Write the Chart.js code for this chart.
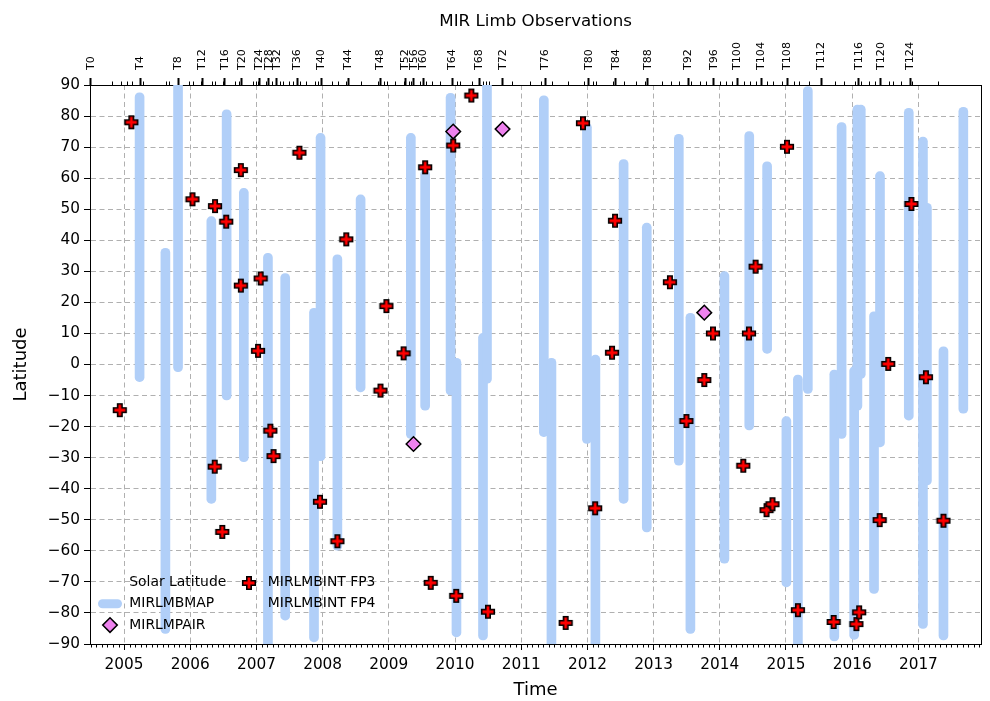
<!DOCTYPE html>
<html>
<head>
<meta charset="utf-8">
<title>MIR Limb Observations</title>
<script src="https://cdn.jsdelivr.net/npm/chart.js"></script>
<style>
  html, body { margin: 0; padding: 0; background: #fff; }
  #wrap { width: 990px; height: 701px; }
</style>
</head>
<body>
<div id="wrap"><canvas id="limbChart" width="990" height="701"></canvas></div>
<script>
// axis ticks
const yearTicks = [2005, 2006, 2007, 2008, 2009, 2010, 2011, 2012, 2013, 2014, 2015, 2016, 2017];
const latTicks = [-90, -80, -70, -60, -50, -40, -30, -20, -10, 0, 10, 20, 30, 40, 50, 60, 70, 80, 90];

// Titan flybys on the top axis (labelled every 4th)
const flybyLabels = ['T0', 'T4', 'T8', 'T12', 'T16', 'T20', 'T24', 'T28', 'T32', 'T36', 'T40', 'T44',
  'T48', 'T52', 'T56', 'T60', 'T64', 'T68', 'T72', 'T76', 'T80', 'T84', 'T88', 'T92', 'T96',
  'T100', 'T104', 'T108', 'T112', 'T116', 'T120', 'T124'];
const flybyLabelTimes = [2004.50, 2005.25, 2005.82, 2006.18, 2006.52, 2006.78, 2007.04, 2007.19, 2007.31,
  2007.62, 2007.98, 2008.39, 2008.87, 2009.25, 2009.38, 2009.52, 2009.96, 2010.37, 2010.72, 2011.36,
  2012.02, 2012.43, 2012.91, 2013.52, 2013.91, 2014.26, 2014.63, 2015.02, 2015.53, 2016.10, 2016.43, 2016.88];
const flybyOtherTimes = [2004.82, 2004.95, 2005.04, 2005.12, 2005.29, 2005.64, 2005.68, 2005.98, 2006.04,
  2006.16, 2006.33, 2006.38, 2006.50, 2006.68, 2006.73, 2006.77, 2006.95, 2006.99, 2007.03, 2007.14,
  2007.23, 2007.36, 2007.40, 2007.49, 2007.55, 2007.66, 2007.75, 2007.88, 2007.93, 2008.14, 2008.23,
  2008.36, 2008.58, 2008.84, 2008.93, 2008.97, 2009.10, 2009.23, 2009.30, 2009.34, 2009.47, 2009.56,
  2009.65, 2009.78, 2009.95, 2010.03, 2010.07, 2010.26, 2010.43, 2010.47, 2010.51, 2010.86, 2011.13,
  2011.30, 2011.47, 2011.70, 2011.95, 2012.08, 2012.13, 2012.39, 2012.56, 2012.74, 2012.87, 2013.13,
  2013.26, 2013.39, 2013.57, 2013.70, 2013.79, 2014.00, 2014.09, 2014.18, 2014.37, 2014.46, 2014.55,
  2014.72, 2014.81, 2014.94, 2015.12, 2015.20, 2015.35, 2015.74, 2015.87, 2016.04, 2016.13, 2016.26,
  2016.34, 2016.56, 2016.61, 2016.74, 2016.91, 2017.30];

// MIRLMBMAP latitude coverage
const mapTimes = [2005.235, 2005.625, 2005.816, 2006.319, 2006.550, 2006.810, 2007.174, 2007.435, 2007.870,
  2007.969, 2008.223, 2008.574, 2009.333, 2009.549, 2009.933, 2010.022, 2010.423, 2010.483, 2011.342,
  2011.457, 2011.993, 2012.121, 2012.547, 2012.897, 2013.381, 2013.556, 2014.070, 2014.445, 2014.715,
  2015.006, 2015.180, 2015.330, 2015.730, 2015.840, 2016.030, 2016.079, 2016.130, 2016.330, 2016.420,
  2016.855, 2017.069, 2017.129, 2017.379, 2017.679];
const mapLatLow = [-5.5, -86.6, -2.3, -44.7, -11.4, -31.3, -93, -82.3, -89.3, -31, -59.8, -8.8, -23.8, -14.7,
  -9.8, -87.7, -88.7, -6, -23.2, -93, -25.4, -93, -44.7, -53.9, -32.4, -86.6, -64, -21.1, 3.6, -71.6, -93,
  -9.3, -89, -23.8, -88.5, -14.7, -4.5, -73.7, -26.5, -17.9, -85, -38.8, -88.7, -15.7];
const mapLatHigh = [87.5, 37.4, 93, 47.6, 82, 56.7, 35.8, 29.3, 18.1, 74.4, 35.3, 54.6, 74.4, 62.6, 87.3,
  2, 10, 93, 86.5, 2, 77.7, 3, 66, 45.5, 74.1, 16.5, 29.9, 75, 65.3, -16.8, -3.4, 89.5, -1.8, 77.9, -0.7,
  83.5, 83.5, 17, 62.1, 82.5, 73.2, 51.9, 5.7, 82.8];

// MIRLMBINT FP3
const fp3Times = [2004.936, 2005.111, 2006.034, 2006.375, 2006.370, 2006.484, 2006.544, 2006.765, 2006.765,
  2007.024, 2007.064, 2007.210, 2007.259, 2007.649, 2007.960, 2008.223, 2008.358, 2008.874, 2008.964,
  2009.223, 2009.549, 2009.633, 2009.973, 2010.018, 2010.247, 2010.498, 2011.672, 2011.933, 2012.117,
  2012.372, 2012.417, 2013.246, 2013.496, 2013.766, 2013.897, 2014.355, 2014.441, 2014.541, 2014.706,
  2014.796, 2015.015, 2015.180, 2015.720, 2016.064, 2016.105, 2016.415, 2016.544, 2016.895, 2017.114,
  2017.379];
const fp3Lats = [-14.7, 78, 53.2, 51, -32.9, -53.9, 46, 62.6, 25.4, 4.4, 27.7, -21.3, -29.5, 68.2, -44.2,
  -56.9, 40.3, -8.4, 18.8, 3.6, 63.5, -70.3, 70.5, -74.5, 86.6, -79.6, -83.2, 77.7, -46.3, 3.8, 46.3,
  26.5, -18.2, -5, 10, -32.6, 10, 31.5, -46.9, -45, 70.1, -79.1, -82.9, -83.6, -79.8, -50.1, 0.2, 51.7,
  -4.1, -50.3];

// MIRLMPAIR
const pairTimes = [2009.973, 2010.718, 2009.373, 2013.766];
const pairLats = [75, 75.8, -25.6, 16.7];

// empty in this plot
const fp4Times = [];
const fp4Lats = [];
const solarTimes = [];
const solarLats = [];

const MAP_BLUE = '#b1cff8';
const FONT = "'DejaVu Sans', sans-serif";

function pts(xs, ys) {
    return xs.map((x, i) => ({ x: x, y: ys[i] }));
}

// filled plus marker with black edge
function makePlus() {
    const c = document.createElement('canvas');
    c.width = 16; c.height = 16;
    const g = c.getContext('2d');
    const m = 8, h = 6.3, a = 2.2;
    g.beginPath();
    g.moveTo(m - a, m - h); g.lineTo(m + a, m - h); g.lineTo(m + a, m - a);
    g.lineTo(m + h, m - a); g.lineTo(m + h, m + a); g.lineTo(m + a, m + a);
    g.lineTo(m + a, m + h); g.lineTo(m - a, m + h); g.lineTo(m - a, m + a);
    g.lineTo(m - h, m + a); g.lineTo(m - h, m - a); g.lineTo(m - a, m - a);
    g.closePath();
    g.fillStyle = '#ff0000';
    g.fill();
    g.lineWidth = 1.6;
    g.strokeStyle = '#000';
    g.stroke();
    return c;
}
const plusMarker = makePlus();

// small ticks: months on the bottom, other flybys on the top
const minorTicks = {
    id: 'minorTicks',
    afterDraw(chart) {
        const ctx = chart.ctx;
        const area = chart.chartArea;
        const xs = chart.scales.x;
        ctx.save();
        ctx.strokeStyle = '#000';
        ctx.lineWidth = 1;
        ctx.beginPath();
        for (let m = Math.ceil(xs.min * 12); m <= xs.max * 12; m++) {
            if (m % 12 === 0) continue;
            const px = Math.round(xs.getPixelForValue(m / 12)) + 0.5;
            ctx.moveTo(px, area.bottom);
            ctx.lineTo(px, area.bottom + 3.5);
        }
        flybyOtherTimes.forEach(t => {
            const px = Math.round(xs.getPixelForValue(t)) + 0.5;
            ctx.moveTo(px, area.top);
            ctx.lineTo(px, area.top - 3.5);
        });
        ctx.stroke();
        ctx.restore();
    }
};

// rotated flyby names above the top ticks
const flybyNames = {
    id: 'flybyNames',
    afterDraw(chart) {
        const ctx = chart.ctx;
        const area = chart.chartArea;
        const xs = chart.scales.xTop;
        ctx.save();
        ctx.font = '11.1px ' + FONT;
        ctx.fillStyle = '#000';
        ctx.textAlign = 'left';
        ctx.textBaseline = 'middle';
        flybyLabelTimes.forEach((t, i) => {
            ctx.save();
            ctx.translate(xs.getPixelForValue(t), area.top - 15);
            ctx.rotate(-Math.PI / 2);
            ctx.fillText(flybyLabels[i], 0, 0);
            ctx.restore();
        });
        ctx.restore();
    }
};

// two-column legend inside the lower left corner
const cornerLegend = {
    id: 'cornerLegend',
    afterDraw(chart) {
        const ctx = chart.ctx;
        const area = chart.chartArea;
        ctx.save();
        ctx.font = '13.9px ' + FONT;
        ctx.textBaseline = 'middle';
        chart.data.datasets.forEach((ds, i) => {
            const col = Math.floor(i / 3), row = i % 3;
            const hx = area.left + 20 + col * 138.5;
            const y = area.bottom - 61.5 + row * 21.3;
            if (ds.type === 'bar') {
                ctx.strokeStyle = ds.backgroundColor;
                ctx.lineWidth = 9;
                ctx.lineCap = 'round';
                ctx.beginPath();
                ctx.moveTo(hx - 7.5, y);
                ctx.lineTo(hx + 7.5, y);
                ctx.stroke();
            } else if (ds.pointStyle === 'rectRot') {
                const r = ds.pointRadius;
                ctx.beginPath();
                ctx.moveTo(hx - r, y); ctx.lineTo(hx, y - r);
                ctx.lineTo(hx + r, y); ctx.lineTo(hx, y + r);
                ctx.closePath();
                ctx.fillStyle = ds.backgroundColor;
                ctx.fill();
                ctx.lineWidth = ds.borderWidth;
                ctx.strokeStyle = ds.borderColor;
                ctx.stroke();
            } else if (ds.pointStyle instanceof HTMLCanvasElement) {
                const img = ds.pointStyle;
                ctx.drawImage(img, Math.round(hx - img.width / 2), Math.round(y - img.height / 2));
            }
            ctx.fillStyle = '#000';
            ctx.fillText(ds.label, hx + 19.3, y);
        });
        ctx.restore();
    }
};

const gridColor = '#b0b0b0';

new Chart(document.getElementById('limbChart'), {
    type: 'scatter',
    data: {
        datasets: [
            {
                type: 'line',
                label: 'Solar Latitude',
                data: pts(solarTimes, solarLats),
                borderWidth: 0,
                pointRadius: 0,
                order: 5
            },
            {
                type: 'bar',
                label: 'MIRLMBMAP',
                data: mapTimes.map((t, i) => ({ x: t, y: [mapLatLow[i], mapLatHigh[i]] })),
                backgroundColor: MAP_BLUE,
                borderWidth: 0,
                barThickness: 9,
                borderRadius: 4.5,
                borderSkipped: false,
                order: 4
            },
            {
                label: 'MIRLMPAIR',
                data: pts(pairTimes, pairLats),
                pointStyle: 'rectRot',
                pointRadius: 7.3,
                backgroundColor: '#ee82ee',
                borderColor: '#000',
                borderWidth: 1.5,
                order: 2
            },
            {
                label: 'MIRLMBINT FP3',
                data: pts(fp3Times, fp3Lats),
                pointStyle: plusMarker,
                pointRadius: 7,
                order: 1
            },
            {
                label: 'MIRLMBINT FP4',
                data: pts(fp4Times, fp4Lats),
                pointRadius: 0,
                order: 3
            }
        ]
    },
    options: {
        responsive: false,
        animation: false,
        devicePixelRatio: 1,
        layout: { padding: 0 },
        font: { family: FONT },
        color: '#000',
        plugins: {
            legend: { display: false },
            tooltip: { enabled: false },
            title: { display: false }
        },
        scales: {
            x: {
                type: 'linear',
                position: 'bottom',
                min: 2004.486,
                max: 2017.949,
                offset: false,
                afterBuildTicks: scale => { scale.ticks = yearTicks.map(v => ({ value: v })); },
                afterFit: scale => { scale.height = 57; },
                ticks: {
                    autoSkip: false,
                    maxRotation: 0,
                    padding: 5.8,
                    color: '#000',
                    font: { family: FONT, size: 15.3 },
                    callback: v => String(v)
                },
                grid: {
                    offset: false,
                    color: gridColor,
                    lineWidth: 1,
                    tickLength: 6,
                    tickColor: '#000',
                    tickWidth: 1
                },
                border: { display: true, color: '#000', width: 1, dash: [5, 3.5] },
                title: {
                    display: true,
                    text: 'Time',
                    color: '#000',
                    font: { family: FONT, size: 18 },
                    padding: { top: 0, bottom: 0 }
                }
            },
            xTop: {
                type: 'linear',
                axis: 'x',
                position: 'top',
                min: 2004.486,
                max: 2017.949,
                afterBuildTicks: scale => { scale.ticks = flybyLabelTimes.map(v => ({ value: v })); },
                afterFit: scale => { scale.height = 85; },
                ticks: { display: false, autoSkip: false },
                grid: {
                    drawOnChartArea: false,
                    tickLength: 7,
                    tickColor: '#000',
                    tickWidth: 2
                },
                border: { display: true, color: '#000', width: 1 },
                title: {
                    display: true,
                    text: 'MIR Limb Observations',
                    color: '#000',
                    font: { family: FONT, size: 16.7 },
                    padding: { top: 12, bottom: 0 }
                }
            },
            y: {
                type: 'linear',
                position: 'left',
                min: -90,
                max: 90,
                afterBuildTicks: scale => { scale.ticks = latTicks.map(v => ({ value: v })); },
                afterFit: scale => { scale.width = 90; },
                ticks: {
                    autoSkip: false,
                    padding: 4,
                    color: '#000',
                    font: { family: FONT, size: 15.3 },
                    callback: v => (v < 0 ? '\u2212' + Math.abs(v) : String(v))
                },
                grid: {
                    color: gridColor,
                    lineWidth: 1,
                    tickLength: 6,
                    tickColor: '#000',
                    tickWidth: 1
                },
                border: { display: true, color: '#000', width: 1, dash: [5, 3.5] },
                title: {
                    display: true,
                    text: 'Latitude',
                    color: '#000',
                    font: { family: FONT, size: 18 },
                    padding: { top: 11, bottom: 0 }
                }
            },
            yRight: {
                type: 'linear',
                axis: 'y',
                position: 'right',
                min: -90,
                max: 90,
                afterFit: scale => { scale.width = 2; },
                ticks: { display: false },
                grid: { display: false, drawTicks: false },
                border: { display: true, color: '#000', width: 1 }
            }
        }
    },
    plugins: [minorTicks, flybyNames, cornerLegend]
});
</script>
</body>
</html>
